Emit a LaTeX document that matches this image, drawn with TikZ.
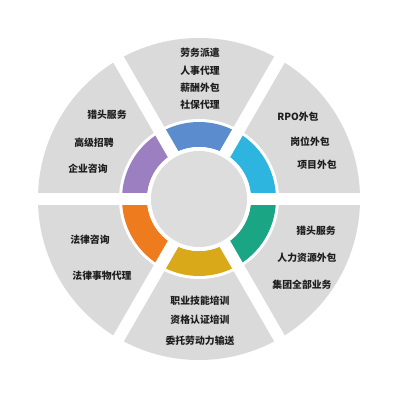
\documentclass[tikz,border=0pt]{standalone}
\usepackage{fontspec}
\usepackage{xcolor}
\newfontfamily\cjk{Noto Sans CJK SC}
\definecolor{sec}{RGB}{218, 218, 218}
\definecolor{hub}{RGB}{221, 221, 221}
\definecolor{blu}{RGB}{91, 141, 206}
\definecolor{cya}{RGB}{45, 181, 224}
\definecolor{grn}{RGB}{26, 165, 133}
\definecolor{gld}{RGB}{217, 169, 26}
\definecolor{org}{RGB}{238, 123, 30}
\definecolor{pur}{RGB}{155, 127, 192}
\definecolor{ink}{RGB}{30, 30, 30}
\tikzset{
  item/.style={text=ink, inner sep=0pt, font=\cjk\bfseries\fontsize{7}{8}\selectfont},
  gap/.style={white, line width=0.3cm}
}

\begin{document}
\begin{tikzpicture}[x=0.025cm, y=0.025cm]
      \useasboundingbox (-199, -201) rectangle (201, 199);
      \fill[white] (-199, -201) rectangle (201, 199);
      % outer sectors
      \fill[color=sec] (0, 0) circle (161);
      % ring
      \fill[white] (0, 0) circle (80);
      \fill[color=blu] (60:77) arc (60:120:77) -- (120:52) arc (120:60:52) -- cycle;
      \fill[color=cya] (0:77) arc (0:60:77) -- (60:52) arc (60:0:52) -- cycle;
      \fill[color=grn] (-60:77) arc (-60:0:77) -- (0:52) arc (0:-60:52) -- cycle;
      \fill[color=gld] (240:77) arc (240:300:77) -- (300:52) arc (300:240:52) -- cycle;
      \fill[color=org] (180:77) arc (180:240:77) -- (240:52) arc (240:180:52) -- cycle;
      \fill[color=pur] (120:77) arc (120:180:77) -- (180:52) arc (180:120:52) -- cycle;
      % gaps
      \draw[gap] (0:165)--(180:165);
      \draw[gap] (60:165)--(240:165);
      \draw[gap] (120:165)--(300:165);
      % hub
      \fill[white] (0, 0) circle (52);
      \fill[color=hub] (0, 0) circle (48);
      % top
      \node[item] (t1) at (1, 146) {劳务派遣};
      \node[item] (t2) at (1, 128) {人事代理};
      \node[item] (t3) at (1, 111) {薪酬外包};
      \node[item] (t4) at (1, 94) {社保代理};
      % upper right
      \node[item] (ur1) at (99, 82) {RPO外包};
      \node[item] (ur2) at (111, 57) {岗位外包};
      \node[item] (ur3) at (118, 34) {项目外包};
      % lower right
      \node[item] (lr1) at (117, -32) {猎头服务};
      \node[item] (lr2) at (108, -59) {人力资源外包};
      \node[item] (lr3) at (103, -86) {集团全部业务};
      % bottom
      \node[item] (b1) at (1, -102) {职业技能培训};
      \node[item] (b2) at (1, -121) {资格认证培训};
      \node[item] (b3) at (1, -142) {委托劳动力输送};
      % lower left
      \node[item] (ll1) at (-109, -41) {法律咨询};
      \node[item] (ll2) at (-97, -77) {法律事物代理};
      % upper left
      \node[item] (ul1) at (-92, 84) {猎头服务};
      \node[item] (ul2) at (-105, 56) {高级招聘};
      \node[item] (ul3) at (-111, 30) {企业咨询};
    \end{tikzpicture}
\end{document}
